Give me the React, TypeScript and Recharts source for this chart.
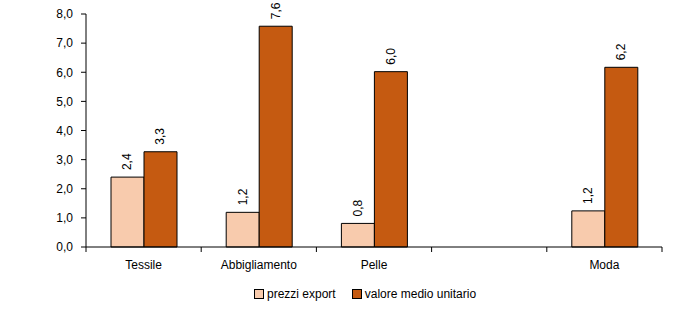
import React from 'react';
import { BarChart, Bar, XAxis, YAxis, Legend, LabelList } from 'recharts';

const categories = ['Tessile', 'Abbigliamento', 'Pelle', '', 'Moda'];
const prezziExport = [2.4, 1.19, 0.81, null, 1.24];
const valoreMedioUnitario = [3.27, 7.58, 6.02, null, 6.17];
const yTicks = [0, 1, 2, 3, 4, 5, 6, 7, 8];

const data = categories.map((c, i) => ({
  name: c,
  prezzi: prezziExport[i],
  valore: valoreMedioUnitario[i],
}));

const FONT = '"Liberation Sans", Arial, sans-serif';
const LIGHT = '#F8CBAD';
const DARK = '#C55A11';
const W = 700;
const H = 309;
const LEFT = 86;
const RIGHT = 38;
const BAND = (W - LEFT - RIGHT) / categories.length;

const fmt = (v: any) => (v == null ? '' : Number(v).toFixed(1).replace('.', ','));

const VLabel = (props: any) => {
  const { x, y, width, value } = props;
  if (value == null) return null;
  const cx = x + width / 2;
  const cy = y - 7;
  return (
    <text
      x={cx}
      y={cy}
      transform={`rotate(-90, ${cx}, ${cy})`}
      textAnchor="start"
      dominantBaseline="central"
      fontSize={12}
      fontFamily={FONT}
      fill="#000"
    >
      {fmt(value)}
    </text>
  );
};

const XTick = (props: any) => {
  const { x, y, payload, index } = props;
  const half = BAND / 2;
  const axisY = y - 0;
  return (
    <g>
      <line x1={x - half} x2={x - half} y1={axisY - 8} y2={axisY - 3} stroke="#000" strokeWidth={1} />
      {index === categories.length - 1 && (
        <line x1={x + half} x2={x + half} y1={axisY - 8} y2={axisY - 3} stroke="#000" strokeWidth={1} />
      )}
      <text x={x} y={axisY + 14} textAnchor="middle" fontSize={12} fontFamily={FONT} fill="#000">
        {payload.value}
      </text>
    </g>
  );
};

const LegendContent = () => (
  <div style={{ position: 'relative', width: W, height: 32, fontFamily: FONT, fontSize: 12, color: '#000' }}>
    <div style={{ position: 'absolute', left: 254, top: 10, display: 'flex', alignItems: 'center' }}>
      <span style={{ display: 'inline-block', width: 8, height: 8, background: LIGHT, border: '1px solid #000', marginRight: 3 }} />
      <span>prezzi export</span>
      <span style={{ display: 'inline-block', width: 8, height: 8, background: DARK, border: '1px solid #000', marginLeft: 16, marginRight: 3 }} />
      <span>valore medio unitario</span>
    </div>
  </div>
);

export default function App() {
  return (
    <div style={{ position: 'absolute', left: 0, top: 0, background: '#fff' }}>
      <BarChart
        width={W}
        height={H}
        data={data}
        margin={{ top: 14, right: RIGHT, bottom: 0, left: 0 }}
        barGap={0}
      >
        <XAxis
          dataKey="name"
          height={30}
          axisLine={{ stroke: '#000', strokeWidth: 1 }}
          tickLine={false}
          tick={<XTick />}
          interval={0}
        />
        <YAxis
          width={LEFT}
          domain={[0, 8]}
          ticks={yTicks}
          tickFormatter={fmt}
          axisLine={{ stroke: '#000', strokeWidth: 1 }}
          tickLine={{ stroke: '#000' }}
          tickSize={5}
          tickMargin={8}
          tick={{ fontSize: 12, fontFamily: FONT, fill: '#000' }}
        />
        <Legend verticalAlign="bottom" height={32} content={<LegendContent />} wrapperStyle={{ left: 0, width: W }} />
        <Bar dataKey="prezzi" fill={LIGHT} stroke="#000" strokeWidth={1} barSize={33} isAnimationActive={false}>
          <LabelList dataKey="prezzi" content={<VLabel />} />
        </Bar>
        <Bar dataKey="valore" fill={DARK} stroke="#000" strokeWidth={1} barSize={33} isAnimationActive={false}>
          <LabelList dataKey="valore" content={<VLabel />} />
        </Bar>
      </BarChart>
    </div>
  );
}
